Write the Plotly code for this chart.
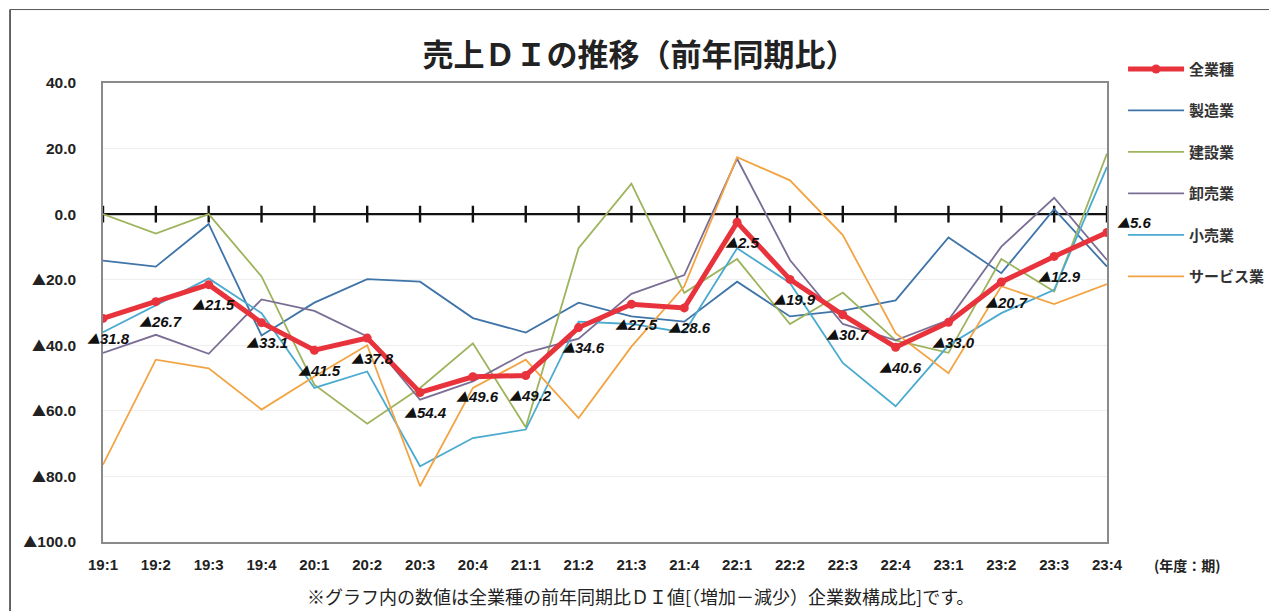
import plotly.graph_objects as go

# ---- data -------------------------------------------------------------
categories = ["19:1", "19:2", "19:3", "19:4", "20:1", "20:2", "20:3", "20:4",
              "21:1", "21:2", "21:3", "21:4", "22:1", "22:2", "22:3", "22:4",
              "23:1", "23:2", "23:3", "23:4"]

all_industries = [-31.8, -26.7, -21.5, -33.1, -41.5, -37.8, -54.4, -49.6, -49.2, -34.6,
                  -27.5, -28.6, -2.5, -19.9, -30.7, -40.6, -33.0, -20.7, -12.9, -5.6]
manufacturing = [-14.2, -16.0, -3.0, -37.0, -27.0, -19.8, -20.6, -31.7, -36.1, -27.0,
                 -31.2, -32.8, -20.6, -31.2, -29.4, -26.3, -7.1, -18.0, 1.5, -16.0]
construction = [0.0, -5.9, 0.0, -19.0, -52.0, -63.9, -53.0, -39.4, -65.0, -10.4,
                9.3, -24.0, -13.7, -33.5, -23.9, -38.5, -42.3, -13.7, -23.6, 18.5]
wholesale = [-42.3, -36.8, -42.6, -26.0, -29.5, -37.3, -56.6, -51.0, -42.3, -38.0,
             -24.3, -18.6, 16.9, -14.0, -33.5, -38.5, -32.3, -9.9, 5.0, -14.0]
retail = [-36.0, -27.7, -19.6, -30.2, -53.0, -48.0, -76.9, -68.3, -65.7, -32.8,
          -33.5, -36.1, -10.4, -21.0, -45.4, -58.6, -40.0, -30.2, -23.1, 14.4]
services = [-76.4, -44.4, -47.0, -59.6, -49.5, -40.0, -83.0, -53.0, -44.4, -62.2,
            -40.4, -22.0, 17.4, 10.3, -6.4, -36.3, -48.5, -22.0, -27.4, -21.3]

y_tick_values = [40, 20, 0, -20, -40, -60, -80, -100]
y_tick_labels = ["40.0", "20.0", "0.0", "▲20.0", "▲40.0", "▲60.0", "▲80.0", "▲100.0"]

series_names = ["全業種", "製造業", "建設業", "卸売業", "小売業", "サービス業"]

# ---- styles -----------------------------------------------------------
JP = "Noto Sans CJK JP"
NUM = "Liberation Sans, Arial, DejaVu Sans"
RED = "#e8323c"
TRI = "<span style='font-family:Noto Sans CJK JP;font-size:{}px'>▲</span>"

thin_series = [
    (series_names[1], manufacturing, "#3f74a8"),
    (series_names[2], construction, "#9db35c"),
    (series_names[3], wholesale, "#7b6e95"),
    (series_names[4], retail, "#4aaad0"),
    (series_names[5], services, "#f2a443"),
]

fig = go.Figure()

# zero reference line with category tick marks (category axis crossing at 0)
fig.add_trace(go.Scatter(
    x=categories, y=[0] * len(categories), mode="lines+markers",
    line=dict(color="#111111", width=2.4),
    marker=dict(symbol="line-ns", size=12, line=dict(color="#111111", width=2.4)),
    showlegend=False, hoverinfo="skip"))

for rank, (name, vals, color) in enumerate(thin_series, start=2):
    fig.add_trace(go.Scatter(
        x=categories, y=vals, mode="lines", name=name,
        line=dict(color=color, width=1.8),
        legendrank=rank, legendgroup=name))

fig.add_trace(go.Scatter(
    x=categories, y=all_industries, mode="lines+markers", name=series_names[0],
    line=dict(color=RED, width=5),
    marker=dict(color=RED, size=9),
    legendrank=1, legendgroup=series_names[0]))

# data labels for 全業種
def fmt(v):
    return (TRI.format(13) if v < 0 else "") + f"{abs(v):.1f}"

last = len(categories) - 1
for i, (c, v) in enumerate(zip(categories, all_industries)):
    fig.add_annotation(
        x=c, y=v, text=fmt(v), showarrow=False,
        xshift=27 if i == last else 5,
        yshift=10 if i == last else -20,
        font=dict(family=NUM, size=15, color="#111111", style="italic", weight="bold"))

# axis unit note and footnote
fig.add_annotation(x=1.08, y=-0.05, xref="paper", yref="paper", text="(年度：期)",
                   showarrow=False, xanchor="center", yanchor="middle",
                   font=dict(family=JP, size=14, color="#222222", weight="bold"))
fig.add_annotation(x=0.535, y=-0.117, xref="paper", yref="paper",
                   text="※グラフ内の数値は全業種の前年同期比ＤＩ値[（増加－減少）企業数構成比]です。",
                   showarrow=False, xanchor="center", yanchor="middle", borderpad=0,
                   font=dict(family=JP, size=18, color="#222222"))

# outer frame (left and top edges of the scanned box)
fig.add_shape(type="line", xref="paper", yref="paper", x0=-0.0926, x1=-0.0926, y0=1.16, y1=-0.3,
              line=dict(color="#333333", width=1.5))
fig.add_shape(type="line", xref="paper", yref="paper", x0=-0.0926, x1=1.3, y0=1.16, y1=1.16,
              line=dict(color="#555555", width=1))

y_text = [t.replace("▲", TRI.format(14)) for t in y_tick_labels]

fig.update_layout(
    width=1269, height=611,
    margin=dict(l=103, r=162, t=83, b=69, autoexpand=False),
    paper_bgcolor="white", plot_bgcolor="white",
    title=dict(text="<b>売上ＤＩの推移（前年同期比）</b>", x=0.504, xanchor="center",
               y=0.91, yanchor="middle",
               font=dict(family=JP, size=31, color="#222222")),
    showlegend=True,
    legend=dict(x=1.016, y=1.066, xanchor="left", yanchor="top",
                font=dict(family=JP, size=15, color="#333333", weight="bold"),
                tracegroupgap=19, itemwidth=56, bgcolor="rgba(0,0,0,0)"),
    xaxis=dict(type="category", range=[0, len(categories) - 1],
               showgrid=False, showline=True, linecolor="#8a8a8a", linewidth=1.5, mirror=True,
               ticks="", tickfont=dict(family=NUM, size=15, color="#222222", weight="bold"),
               ticklabelstandoff=8),
    yaxis=dict(range=[-100, 40], tickvals=y_tick_values, ticktext=y_text,
               showgrid=True, gridcolor="#eeeeee", gridwidth=1, zeroline=False,
               showline=True, linecolor="#8a8a8a", linewidth=1.5, mirror=True,
               ticks="", tickfont=dict(family=NUM, size=15.5, color="#222222", weight="bold"),
               ticklabelstandoff=22),
)

fig.write_html("out.html")
